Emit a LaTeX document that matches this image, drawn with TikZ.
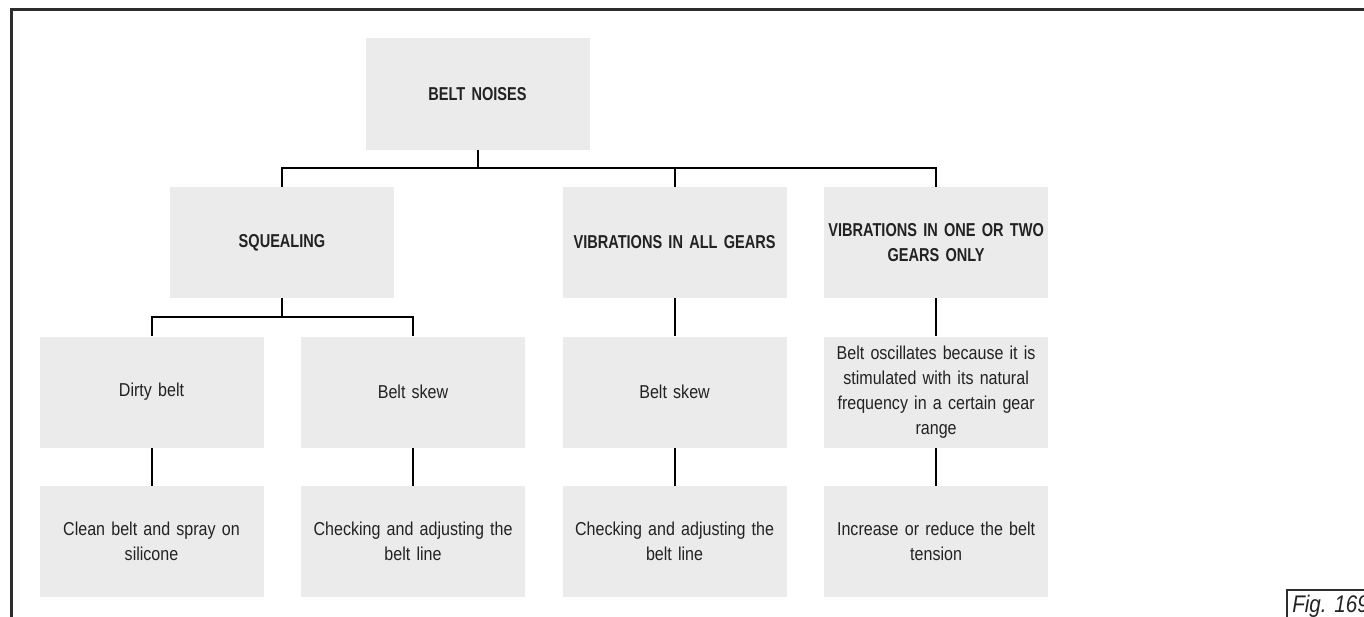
\documentclass[tikz,border=0pt]{standalone}
\usepackage{fontspec}
\setmainfont[FakeStretch=0.86,BoldFeatures={FakeStretch=0.78}]{Liberation Sans}
\usepackage{xcolor}
\usepackage{tikz}
\usetikzlibrary{positioning}
\definecolor{boxgray}{HTML}{EBEBEB}
\definecolor{ink}{HTML}{222222}
\tikzstyle{cause} = [rectangle, minimum width=168pt, minimum height=83.25pt, text width=166pt, inner sep=1pt, align=center, fill=boxgray, text=ink, font=\fontsize{14}{18.75}\selectfont]
\tikzstyle{heading} = [cause, font=\fontsize{14}{18.75}\selectfont\bfseries]
\tikzstyle{link} = [line width=1.5pt, black]
\tikzstyle{frame} = [line width=2.25pt, ink!95]

\begin{document}
\begin{tikzpicture}[x=0.75pt, y=-0.75pt, node distance=28.5pt and 27.75pt]
            \useasboundingbox (0,0) rectangle (1364,617);
            \clip (0,0) rectangle (1364,617);
            \draw [frame] (11,630) -- (11,10) -- (1370,10);

            % top of the tree
            \node (noises) [heading] at (477.5,94) {BELT NOISES};
            \node (squeal) [heading] at (282,242.5) {SQUEALING};

            % causes
            \node (dirty) [cause] at (151.5,392) {Dirty belt};
            \node (skewa) [cause, right=of dirty] {Belt skew};
            \node (skewb) [cause, right=of skewa] {Belt skew};
            \node (oscil) [cause, right=of skewb] {Belt oscillates because it is\\stimulated with its natural\\frequency in a certain gear\\range};
            \node (allgears) [heading, above=of skewb] {VIBRATIONS IN ALL GEARS};
            \node (onetwo) [heading, above=of oscil] {VIBRATIONS IN ONE OR TWO\\GEARS ONLY};

            % remedies
            \node (clean) [cause, below=of dirty] {Clean belt and spray on\\silicone};
            \node (adjusta) [cause, below=of skewa] {Checking and adjusting the\\belt line};
            \node (adjustb) [cause, below=of skewb] {Checking and adjusting the\\belt line};
            \node (tension) [cause, below=of oscil] {Increase or reduce the belt\\tension};

            \draw [link] (noises.south) -- ++(0,18) -| (squeal.north);
            \draw [link] (noises.south) ++(0,18) -| (allgears.north);
            \draw [link] (noises.south) ++(0,18) -| (onetwo.north);
            \draw [link] (squeal.south) -- ++(0,19) -| (dirty.north);
            \draw [link] (squeal.south) ++(0,19) -| (skewa.north);
            \draw [link] (allgears.south) -- (skewb.north);
            \draw [link] (onetwo.south) -- (oscil.north);
            \draw [link] (dirty.south) -- (clean.north);
            \draw [link] (skewa.south) -- (adjusta.north);
            \draw [link] (skewb.south) -- (adjustb.north);
            \draw [link] (oscil.south) -- (tension.north);

            % figure tag, cut at the page edge
            \draw [frame, line width=1.5pt] (1287,630) -- (1287,590) -- (1370,590);
            \node (figtag) [anchor=base west, inner sep=0pt, text=ink, font=\fontsize{18}{20}\selectfont\itshape] at (1292,612) {Fig. 169};
        \end{tikzpicture}
\end{document}
